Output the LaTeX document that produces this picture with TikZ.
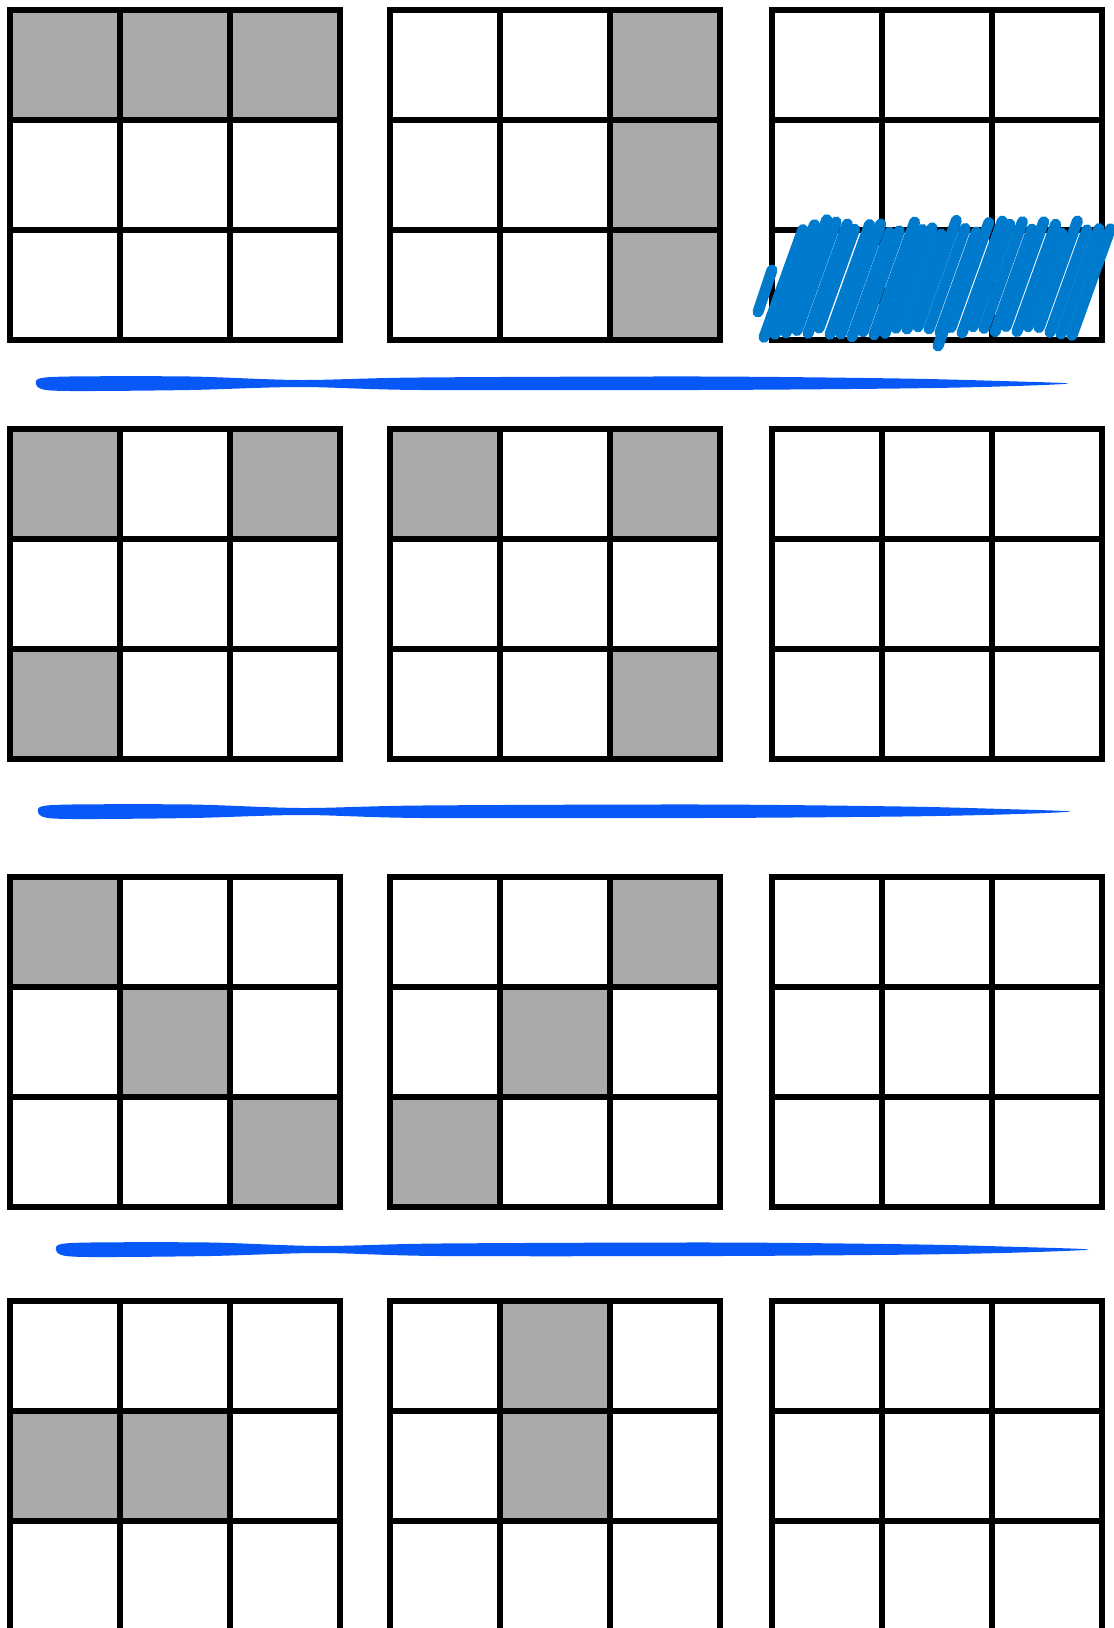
\documentclass[tikz,border=0pt]{standalone}
\usepackage{xcolor}
\usepackage{tikz}
\usetikzlibrary{calc}
\definecolor{cellgray}{RGB}{170,170,170}
\definecolor{brushblue}{RGB}{8,88,248}
\definecolor{scribbleblue}{RGB}{0,122,204}

\begin{document}
\begin{tikzpicture}[
			x=0.02cm, y=-0.02cm,
			gridline/.style={line width=0.11cm, black, line cap=rect},
			brush/.style={fill=brushblue},
			hatch/.style={draw=scribbleblue, line width=0.22cm, line cap=round}
		]
		\useasboundingbox (0,0) rectangle (1113,1628);
		% Shaded cells: board left/board top/cell row/cell column
		\foreach \gx/\gy/\r/\c in {10/10/0/0, 10/10/0/1, 10/10/0/2,
				390/10/0/2, 390/10/1/2, 390/10/2/2,
				10/429/0/0, 10/429/0/2, 10/429/2/0,
				390/429/0/0, 390/429/0/2, 390/429/2/2,
				10/877/0/0, 10/877/1/1, 10/877/2/2,
				390/877/0/2, 390/877/1/1, 390/877/2/0,
				10/1301/1/0, 10/1301/1/1,
				390/1301/0/1, 390/1301/1/1}
			\fill[cellgray] ({\gx+\c*110},{\gy+\r*110}) rectangle ++(110,110);
		
		% Grid lines of the twelve boards
		\foreach \gy in {10,429,877,1301}
			\foreach \gx in {10,390,772}
				\foreach \k in {0,...,3} {
					\draw[gridline] ({\gx+\k*110},\gy) -- ++(0,330);
					\draw[gridline] (\gx,{\gy+\k*110}) -- ++(330,0);
				}
		
		% Brush strokes between the rows
		\foreach \sx/\sy in {0/0, 2/428, 20/866}
			\fill[brush, shift={(\sx,\sy)}] plot[smooth cycle, tension=0.5] coordinates {
				(38,379) (70,376.5) (190,376.5) (300,380) (420,377.5) (700,376.5)
				(900,378.5) (1000,381) (1068,383.5) (1000,386.5) (900,388.5)
				(700,390) (420,390) (300,387) (190,390) (70,391) (40,388.5)};
		
		% Scribble over the bottom row of the top right board
		\pgfmathsetseed{11}
		\foreach \xb in {764,775,...,1080} {
			\pgfmathsetmacro\yt{219+16*rnd}
			\pgfmathsetmacro\yb{326+12*rnd}
			\draw[hatch] (\xb,\yb) -- ({\xb+0.36*(\yb-\yt)},\yt);
		}
		\draw[hatch] (758,312) -- (772,270);
		\draw[hatch] (938,346) -- (968,262);
		\end{tikzpicture}
\end{document}
